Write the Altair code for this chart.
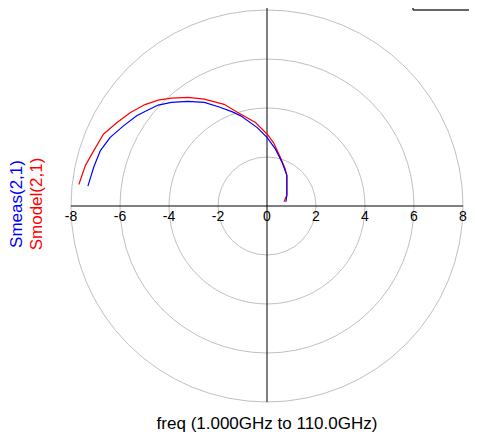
import altair as alt
import pandas as pd

# S21 curves (cartesian), ordered from low to high frequency
red_x = [0.69, 0.81, 0.81, 0.74, 0.54, 0.27, 0.0, -0.47, -1.21, -1.75, -2.56, -3.23, -3.9, -4.44, -4.98, -5.59, -6.12, -6.67, -7.07, -7.41, -7.68]
red_y = [0.17, 0.44, 1.25, 1.52, 2.0, 2.58, 2.94, 3.41, 3.83, 4.15, 4.36, 4.43, 4.4, 4.32, 4.14, 3.81, 3.41, 2.94, 2.26, 1.66, 0.88]
blue_x = [0.77, 0.81, 0.81, 0.61, 0.34, 0.0, -0.4, -1.07, -1.41, -1.95, -2.56, -3.23, -3.9, -4.44, -4.98, -5.32, -5.86, -6.4, -6.8, -7.07, -7.31]
blue_y = [0.17, 0.44, 1.25, 1.79, 2.33, 2.8, 3.2, 3.68, 3.84, 4.04, 4.23, 4.27, 4.23, 4.12, 3.86, 3.68, 3.27, 2.8, 2.26, 1.59, 0.81]

grid_radii = [2, 4, 6, 8]
tick_values = [-8, -6, -4, -2, 0, 2, 4, 6, 8]
tick_labels = ["-8", "-6", "-4", "-2", "0", "2", "4", "6", "8"]

W = 392
H = 392
R = W / 2
FONT = "Liberation Sans"

xs = alt.Scale(domain=[-8, 8], nice=False, zero=False)
ys = alt.Scale(domain=[-8, 8], nice=False, zero=False)

curves = pd.concat([
    pd.DataFrame({"x": red_x, "y": red_y, "i": range(len(red_x)), "s": "Smodel(2,1)"}),
    pd.DataFrame({"x": blue_x, "y": blue_y, "i": range(len(blue_x)), "s": "Smeas(2,1)"}),
])

# grid circles drawn as hollow circle symbols; Vega circle diameter = sqrt(size)
circ = pd.DataFrame({"cx": [0] * len(grid_radii), "cy": [0] * len(grid_radii), "r": grid_radii})
circles = alt.Chart(circ).mark_point(
    shape="circle", filled=False, stroke="#c0c0c0", strokeWidth=1, opacity=1
).encode(
    x=alt.X("cx:Q", scale=xs, axis=None),
    y=alt.Y("cy:Q", scale=ys, axis=None),
    size=alt.Size("r:Q", scale=alt.Scale(type="pow", exponent=2, domain=[0, 8], range=[0, 4 * R * R], zero=True), legend=None),
)

axes_df = pd.DataFrame({"x": [-8, 0], "x2": [8, 0], "y": [0, -8], "y2": [0, 8]})
axes_lines = alt.Chart(axes_df).mark_rule(color="black", strokeWidth=1).encode(
    x=alt.X("x:Q", scale=xs, axis=None), x2="x2:Q",
    y=alt.Y("y:Q", scale=ys, axis=None), y2="y2:Q",
)
top_stub = alt.Chart(pd.DataFrame({"x": [0]})).mark_rule(color="black", strokeWidth=1).encode(
    x=alt.X("x:Q", scale=xs, axis=None), y=alt.value(-2), y2=alt.value(0))

ticks_df = pd.DataFrame({"v": tick_values, "t": tick_labels, "z": [0] * len(tick_values)})
tick_text = alt.Chart(ticks_df).mark_text(
    font=FONT, fontSize=14, color="black", baseline="middle", align="center", dy=11
).encode(
    x=alt.X("v:Q", scale=xs, axis=None),
    y=alt.Y("z:Q", scale=ys, axis=None),
    text="t:N",
)

lines = alt.Chart(curves).mark_line(strokeWidth=1.2, clip=False).encode(
    x=alt.X("x:Q", scale=xs, axis=None),
    y=alt.Y("y:Q", scale=ys, axis=None),
    order="i:Q",
    detail="s:N",
    color=alt.Color("s:N", scale=alt.Scale(domain=["Smeas(2,1)", "Smodel(2,1)"], range=["#0000ff", "#ff0000"]), legend=None),
)

titles_df = pd.DataFrame({"t": ["Smeas(2,1)", "Smodel(2,1)", "freq (1.000GHz to 110.0GHz)"]})
blue_title = alt.Chart(titles_df.iloc[[0]]).mark_text(
    font=FONT, fontSize=17, angle=270, align="center", baseline="middle", color="#0000ff"
).encode(x=alt.value(-54), y=alt.value(194), text="t:N")
red_title = alt.Chart(titles_df.iloc[[1]]).mark_text(
    font=FONT, fontSize=17, angle=270, align="center", baseline="middle", color="#ff0000"
).encode(x=alt.value(-34), y=alt.value(194), text="t:N")
bottom_title = alt.Chart(titles_df.iloc[[2]]).mark_text(
    font=FONT, fontSize=17, align="center", baseline="middle", color="black"
).encode(x=alt.value(W / 2), y=alt.value(414), text="t:N")

box_bottom = alt.Chart(pd.DataFrame({"a": [0]})).mark_rule(color="#333333", strokeWidth=1.5).encode(
    x=alt.value(342), x2=alt.value(410), y=alt.value(0))
box_left = alt.Chart(pd.DataFrame({"a": [0]})).mark_rule(color="#333333", strokeWidth=1.5).encode(
    x=alt.value(342), y=alt.value(-10), y2=alt.value(0))

chart = alt.layer(
    circles, axes_lines, top_stub, tick_text, lines, blue_title, red_title, bottom_title, box_bottom, box_left
).properties(
    width=W, height=H,
    autosize=alt.AutoSizeParams(type="none"),
    padding={"left": 63, "top": 2, "right": 6, "bottom": 32},
).configure_view(stroke=None)

chart.save("out.html", embed_options={"renderer": "svg", "actions": False})
